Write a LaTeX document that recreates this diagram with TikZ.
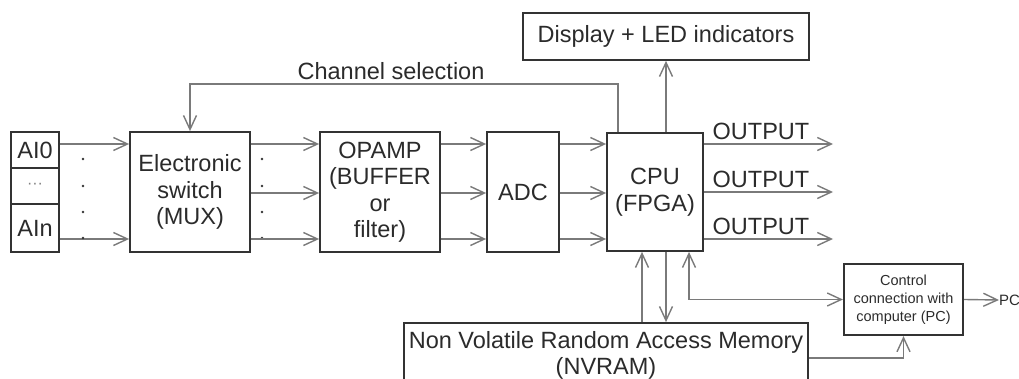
\documentclass[tikz,border=0pt]{standalone}
\usepackage{fontspec}
\setmainfont{Liberation Sans}
\usetikzlibrary{arrows.meta,calc}
\definecolor{boxc}{HTML}{333333}
\definecolor{linec}{HTML}{7A7A7A}
\definecolor{txtc}{HTML}{2B2B2B}
\begin{document}
\begin{tikzpicture}[x=1pt,y=-1pt,
  blk/.style={draw=boxc, line width=1.8pt, rectangle, inner sep=0pt, align=center, text=txtc, font=\fontsize{23.5pt}{26.5pt}\selectfont},
  lbl/.style={text=txtc, inner sep=0pt, align=center, font=\fontsize{23.5pt}{26.5pt}\selectfont},
  small/.style={text=txtc, inner sep=0pt, align=center, font=\fontsize{14.5pt}{18pt}\selectfont},
  tip/.tip={Straight Barb[length=14pt,width=13pt]},
  arr/.style={draw=linec, line width=1.4pt, -tip},
  darr/.style={draw=linec, line width=1.4pt, tip-tip},
  ln/.style={draw=linec, line width=1.4pt},
  dot/.style={fill=boxc}
]
\useasboundingbox (0,0) rectangle (1019,379);

% row coordinates
\coordinate (r1) at (0,144);
\coordinate (r2) at (0,193);
\coordinate (r3) at (0,239);
\coordinate (r4) at (0,358);

% input stack
\node[blk, minimum width=48pt, minimum height=36pt] (ai0) at (35,150) {AI0};
\node[blk, minimum width=48pt, minimum height=36pt, text=gray] (aidots) at (35,186) {\fontsize{16pt}{16pt}\selectfont ···};
\node[blk, minimum width=48pt, minimum height=48pt] (ain) at (35,228) {AIn};

% blocks
\node[blk, minimum width=120pt, minimum height=120pt] (mux) at (190,192) {Electronic\\switch\\(MUX)};
\node[blk, minimum width=120pt, minimum height=120pt] (opamp) at (380,192) {OPAMP\\(BUFFER\\or\\filter)};
\node[blk, minimum width=72pt, minimum height=120pt] (adc) at (523,192) {ADC};
\node[blk, minimum width=96pt, minimum height=118pt] (cpu) at (655,192) {CPU\\(FPGA)};
\node[blk, minimum width=286pt, minimum height=47pt] (disp) at (666,36.5) {Display + LED indicators};
\node[blk, minimum width=119pt, minimum height=71pt, line width=2.2pt] (ctrl) at (903.5,299.5) {};
\node[small] (ctrltext) at (ctrl.center) {Control\\connection with\\computer (PC)};
\node[blk, minimum width=404pt, minimum height=72pt] (nvram) at (606,359) {};
\node[lbl, anchor=base] (nvramtext) at (606,348) {Non Volatile Random Access Memory};
\node[lbl, anchor=base] (nvramtext2) at (606,374) {(NVRAM)};

% inputs to mux
\draw[arr] (ai0.east |- r1) -- (mux.west |- r1);
\draw[arr] (ain.east |- r3) -- (mux.west |- r3);
\foreach \yy in {159,186,212,238} {
  \fill[dot] (83,\yy) circle (1.3pt);
  \fill[dot] (262,\yy) circle (1.3pt);
}

% mux -> opamp -> adc -> cpu
\foreach \r in {r1,r2,r3} {
  \draw[arr] (mux.east |- \r) -- (opamp.west |- \r);
  \draw[arr] (opamp.east |- \r) -- (adc.west |- \r);
  \draw[arr] (adc.east |- \r) -- (cpu.west |- \r);
}

% channel selection
\draw[arr] ([xshift=-37pt]cpu.north) -- ++(0,-48) -| (mux.north);
\node[lbl, anchor=base] (chsel) at (391,80) {Channel selection};

% display
\draw[arr] (disp.south |- cpu.north) -- (disp.south);

% outputs
\coordinate (o1) at (833,144);
\coordinate (o2) at (833,192);
\coordinate (o3) at (833,239);
\draw[arr] (cpu.east |- o1) -- (o1);
\draw[arr] (cpu.east |- o2) -- (o2);
\draw[arr] (cpu.east |- o3) -- (o3);
\node[lbl, anchor=base] (out1) at (761,140) {OUTPUT};
\node[lbl, anchor=base] (out2) at (761,188) {OUTPUT};
\node[lbl, anchor=base] (out3) at (761,235) {OUTPUT};

% cpu <-> nvram
\draw[arr] ([xshift=-13pt]cpu.south |- nvram.north) -- ([xshift=-13pt]cpu.south);
\draw[arr] ([xshift=11pt]cpu.south) -- ([xshift=11pt]cpu.south |- nvram.north);

% cpu <-> control
\draw[darr] ([xshift=34pt]cpu.south) |- (ctrl.west);

% nvram -> control
\draw[arr] (nvram.east |- r4) -| (ctrl.south);

% control -> PC
\node[small, anchor=west, font=\fontsize{15pt}{15pt}\selectfont] (pc) at (999,300) {PC};
\draw[arr] (ctrl.east) -- (pc.west);
\end{tikzpicture}
\end{document}
